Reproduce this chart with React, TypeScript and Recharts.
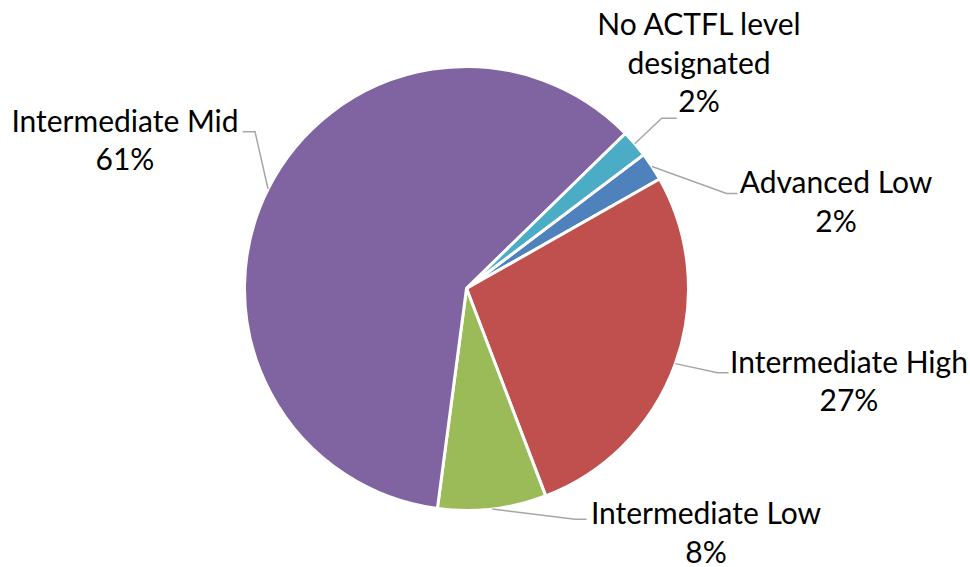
import React from 'react';
import { PieChart, Pie, Cell } from 'recharts';

const categories = [
  'Advanced Low',
  'Intermediate High',
  'Intermediate Low',
  'Intermediate Mid',
  'No ACTFL level designated',
];
const shares = [2.1, 27.4, 7.9, 60.6, 2.0];
const colors = ['#4F81BD', '#C0504D', '#9BBB59', '#8064A2', '#4BACC6'];

const data = categories.map((name, i) => ({ name, value: shares[i] }));

// label placement relative to pie centre (elbow point, end of leader, text centre/first baseline)
const labelLayout = [
  { bend: [260, -95], end: [271, -95], tx: 369.5, ty: -95.2 },
  { bend: [251, 84.2], end: [262, 84.2], tx: 382.5, ty: 84.2 },
  { bend: [108.5, 230.8], end: [120, 230.8], tx: 239.5, ty: 235.5 },
  { bend: [-211.5, -156.8], end: [-223.8, -156.8], tx: -341.5, ty: -156.8 },
  { bend: [195.2, -170.2], end: [210.2, -170.2], tx: 232.5, ty: -253.5 },
];

const FONT = 'Lato, "Open Sans", sans-serif';
const FONT_SIZE = 30;
const LINE_H = 38.5;
const RAD = Math.PI / 180;

function wrap(name: string, max = 17): string[] {
  const words = name.split(' ');
  const lines: string[] = [];
  let cur = '';
  for (const w of words) {
    const next = cur ? cur + ' ' + w : w;
    if (next.length > max && cur) {
      lines.push(cur);
      cur = w;
    } else cur = next;
  }
  if (cur) lines.push(cur);
  return lines;
}

const renderLabel = (props: any) => {
  const { cx, cy, midAngle, outerRadius, index, name, percent } = props;
  const lay = labelLayout[index];
  const sx = cx + outerRadius * Math.cos(-midAngle * RAD);
  const sy = cy + outerRadius * Math.sin(-midAngle * RAD);
  const lines = [...wrap(name), `${Math.round(percent * 100)}%`];
  return (
    <g key={`lbl-${index}`}>
      <path
        d={`M${sx},${sy}L${cx + lay.bend[0]},${cy + lay.bend[1]}L${cx + lay.end[0]},${cy + lay.end[1]}`}
        stroke="#A6A6A6"
        strokeWidth={1.5}
        fill="none"
      />
      {lines.map((ln, i) => (
        <text
          key={i}
          x={cx + lay.tx}
          y={cy + lay.ty + i * LINE_H}
          textAnchor="middle"
          fontFamily={FONT}
          fontSize={FONT_SIZE}
          fill="#000000"
        >
          {ln}
        </text>
      ))}
    </g>
  );
};

export default function App() {
  return (
    <div style={{ position: 'absolute', left: 0, top: 0, width: 970, height: 567, background: '#fff' }}>
      <PieChart width={970} height={567} margin={{ top: 0, right: 0, bottom: 0, left: 0 }}>
        <Pie
          data={data}
          dataKey="value"
          nameKey="name"
          cx={466.5}
          cy={288.5}
          outerRadius={222}
          startAngle={37.1}
          endAngle={-322.9}
          stroke="#FFFFFF"
          strokeWidth={3}
          label={renderLabel}
          labelLine={false}
          isAnimationActive={false}
        >
          {data.map((d, i) => (
            <Cell key={d.name} fill={colors[i]} />
          ))}
        </Pie>
      </PieChart>
    </div>
  );
}
